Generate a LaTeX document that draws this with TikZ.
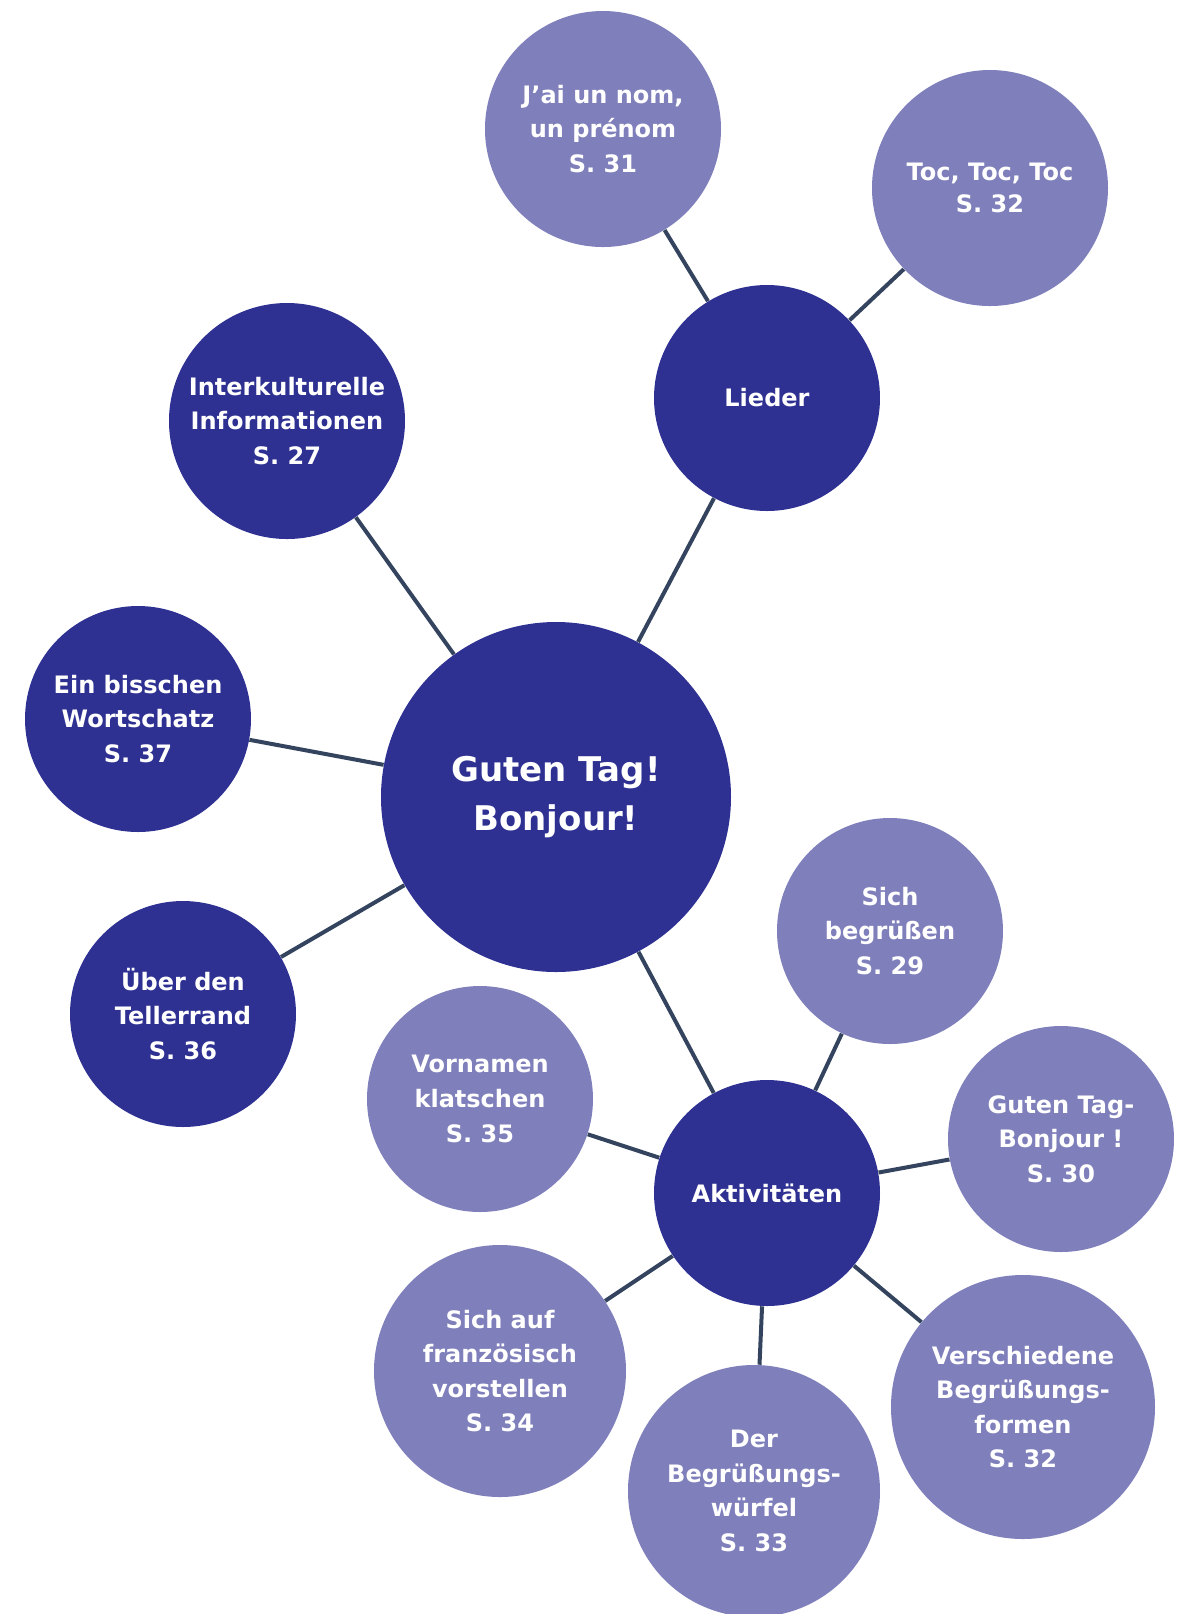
\documentclass[tikz,border=0pt]{standalone}
\usepackage{fontspec}
\setmainfont{DejaVu Sans}
\definecolor{darkc}{RGB}{46,49,146}
\definecolor{lightc}{RGB}{127,127,187}
\definecolor{linec}{RGB}{52,68,94}
\begin{document}
\begin{tikzpicture}[x=0.5pt,y=-0.5pt,
  bub/.style={circle,inner sep=0pt,text=white,font=\bfseries\fontsize{12}{17.3}\selectfont,align=center},
  dk/.style={bub,fill=darkc},
  lt/.style={bub,fill=lightc},
  link/.style={draw=linec,line width=2pt}]
\useasboundingbox (0,0) rectangle (1189,1614);
\fill[white] (0,0) rectangle (1189,1614);
\node[dk,minimum size=175pt,font=\bfseries\fontsize{17}{24.7}\selectfont] (main) at (556,797) {Guten Tag!\\Bonjour!};
\node[dk,minimum size=113pt] (lieder) at (767,398) {Lieder};
\node[lt,minimum size=118pt] (jai) at (603,129) {J’ai un nom,\\un prénom\\S. 31};
\node[lt,minimum size=118pt,font=\bfseries\fontsize{12}{16}\selectfont] (toc) at (990,188) {Toc, Toc, Toc\\S. 32};
\node[dk,minimum size=118pt] (inter) at (287,421) {Interkulturelle\\Informationen\\S. 27};
\node[dk,minimum size=113pt] (ein) at (138,719) {Ein bisschen\\Wortschatz\\S. 37};
\node[dk,minimum size=113pt] (ueber) at (183,1014) {Über den\\Tellerrand\\S. 36};
\node[dk,minimum size=113pt] (akt) at (767,1193) {Aktivitäten};
\node[lt,minimum size=113pt] (sich) at (890,931) {Sich\\begrüßen\\S. 29};
\node[lt,minimum size=113pt] (gtb) at (1061,1139) {Guten Tag-\\Bonjour !\\S. 30};
\node[lt,minimum size=113pt] (vor) at (480,1099) {Vornamen\\klatschen\\S. 35};
\node[lt,minimum size=126pt] (auf) at (500,1371) {Sich auf\\französisch\\vorstellen\\S. 34};
\node[lt,minimum size=126pt] (der) at (754,1491) {Der\\Begrüßungs-\\würfel\\S. 33};
\node[lt,minimum size=132pt] (versch) at (1023,1407) {Verschiedene\\Begrüßungs-\\formen\\S. 32};
\draw[link] (main) -- (lieder);
\draw[link] (lieder) -- (jai);
\draw[link] (lieder) -- (toc);
\draw[link] (main) -- (inter);
\draw[link] (main) -- (ein);
\draw[link] (main) -- (ueber);
\draw[link] (main) -- (akt);
\draw[link] (akt) -- (sich);
\draw[link] (akt) -- (gtb);
\draw[link] (akt) -- (vor);
\draw[link] (akt) -- (auf);
\draw[link] (akt) -- (der);
\draw[link] (akt) -- (versch);
\end{tikzpicture}
\end{document}
